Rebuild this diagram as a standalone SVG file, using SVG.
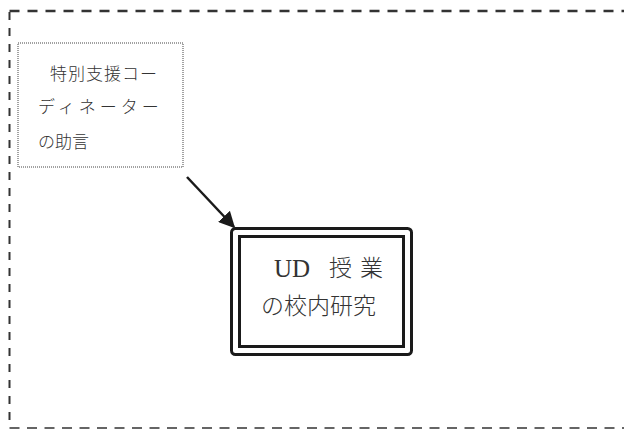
<svg xmlns="http://www.w3.org/2000/svg" width="624" height="433" viewBox="0 0 624 433">
<defs>
<style>
.jp{font-family:"Noto Sans CJK JP","Noto Sans CJK SC",sans-serif;fill:#333;font-weight:300}
.lat{font-family:"Liberation Serif",serif;fill:#333}
</style>
<marker id="ah" viewBox="0 0 10 10" refX="9" refY="5" markerWidth="6.5" markerHeight="6.5" orient="auto" markerUnits="strokeWidth">
<path d="M0,0 L10,5 L0,10 z" fill="#1a1a1a"/>
</marker>
</defs>
<rect width="624" height="433" fill="#fff"/>
<g id="frame" fill="none" stroke="#333">
<path d="M9.5,11 H624" stroke-width="2.5" stroke-dasharray="10,8"/>
<path d="M9.5,12 V426" stroke-width="2" stroke-dasharray="8,8"/>
<path d="M9.5,428 H624" stroke-width="1.5" stroke-dasharray="10,7.5"/>
</g>
<g id="advice">
<rect x="18" y="43" width="165" height="124" fill="none" stroke="#444" stroke-width="1" stroke-dasharray="1,1"/>
<text class="jp" font-size="17" x="50" y="80" letter-spacing="1">特別支援コー</text>
<text class="jp" font-size="17" x="38" y="113" letter-spacing="4">ディネーター</text>
<text class="jp" font-size="17" x="38" y="148">の助言</text>
</g>
<g id="connectors">
<line x1="187" y1="177" x2="234" y2="227" stroke="#1a1a1a" stroke-width="2.5" marker-end="url(#ah)"/>
</g>
<g id="research">
<rect x="231.5" y="228.5" width="180" height="126" rx="4" fill="none" stroke="#1a1a1a" stroke-width="3"/>
<rect x="239.5" y="236.5" width="164" height="110" fill="none" stroke="#1a1a1a" stroke-width="3"/>
<text class="lat" font-size="25" x="274" y="277">UD</text>
<text class="jp" font-size="23" x="329" y="276">授</text>
<text class="jp" font-size="23" x="360" y="276">業</text>
<text class="jp" font-size="23" x="261" y="314">の校内研究</text>
</g>
</svg>
